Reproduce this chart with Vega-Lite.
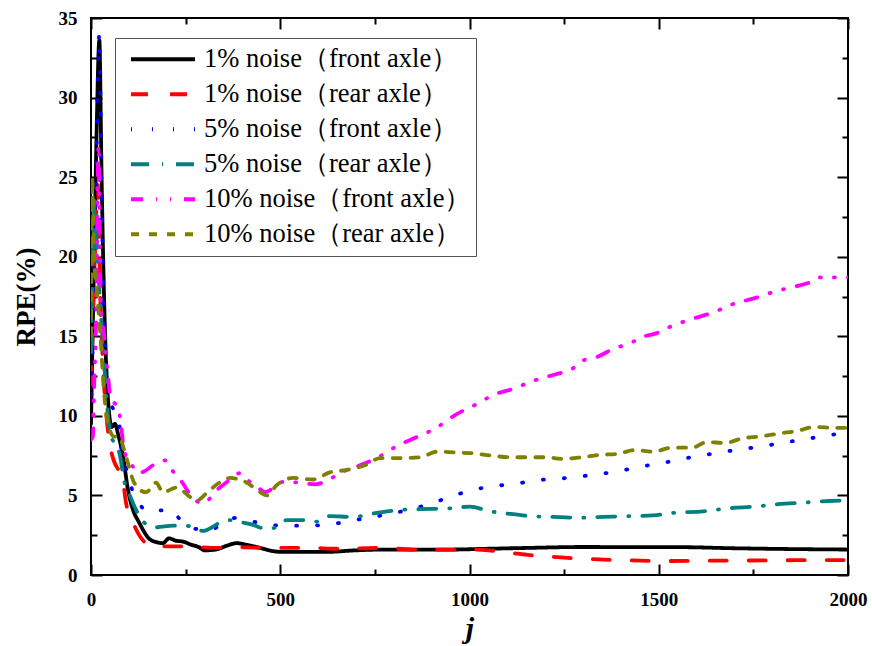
{
  "$schema": "https://vega.github.io/schema/vega-lite/v6.json",
  "width": 757,
  "height": 557,
  "autosize": {"type": "none"},
  "padding": {"left": 91, "top": 18, "right": 24, "bottom": 71},
  "background": "white",
  "config": {
    "view": {"stroke": "black", "strokeWidth": 2},
    "axis": {
      "grid": false,
      "domain": false,
      "tickColor": "black",
      "tickWidth": 2,
      "labelFont": "Liberation Serif",
      "labelFontWeight": "bold",
      "labelFontSize": 19,
      "labelColor": "black",
      "titleFont": "Liberation Serif",
      "titleFontWeight": "bold",
      "titleColor": "black"
    }
  },
  "data": {
    "values": [
      {"series": "1% noise（front axle）", "j": 0, "v": 9.5},
      {"series": "1% noise（front axle）", "j": 5, "v": 16},
      {"series": "1% noise（front axle）", "j": 10, "v": 22},
      {"series": "1% noise（front axle）", "j": 15, "v": 28},
      {"series": "1% noise（front axle）", "j": 22, "v": 33.6},
      {"series": "1% noise（front axle）", "j": 28, "v": 25},
      {"series": "1% noise（front axle）", "j": 35, "v": 17},
      {"series": "1% noise（front axle）", "j": 45, "v": 11},
      {"series": "1% noise（front axle）", "j": 55, "v": 9.3},
      {"series": "1% noise（front axle）", "j": 63, "v": 9.5},
      {"series": "1% noise（front axle）", "j": 72, "v": 8.8},
      {"series": "1% noise（front axle）", "j": 85, "v": 7.4},
      {"series": "1% noise（front axle）", "j": 98, "v": 5.3},
      {"series": "1% noise（front axle）", "j": 111, "v": 4.1},
      {"series": "1% noise（front axle）", "j": 127, "v": 3.3},
      {"series": "1% noise（front axle）", "j": 153, "v": 2.3},
      {"series": "1% noise（front axle）", "j": 175, "v": 2.05},
      {"series": "1% noise（front axle）", "j": 190, "v": 2.0},
      {"series": "1% noise（front axle）", "j": 206, "v": 2.3},
      {"series": "1% noise（front axle）", "j": 225, "v": 2.15},
      {"series": "1% noise（front axle）", "j": 243, "v": 2.1},
      {"series": "1% noise（front axle）", "j": 265, "v": 1.9},
      {"series": "1% noise（front axle）", "j": 285, "v": 1.75},
      {"series": "1% noise（front axle）", "j": 300, "v": 1.55},
      {"series": "1% noise（front axle）", "j": 330, "v": 1.6},
      {"series": "1% noise（front axle）", "j": 360, "v": 1.85},
      {"series": "1% noise（front axle）", "j": 385, "v": 2.0},
      {"series": "1% noise（front axle）", "j": 410, "v": 1.9},
      {"series": "1% noise（front axle）", "j": 447, "v": 1.7},
      {"series": "1% noise（front axle）", "j": 480, "v": 1.5},
      {"series": "1% noise（front axle）", "j": 508, "v": 1.45},
      {"series": "1% noise（front axle）", "j": 560, "v": 1.45},
      {"series": "1% noise（front axle）", "j": 620, "v": 1.45},
      {"series": "1% noise（front axle）", "j": 700, "v": 1.55},
      {"series": "1% noise（front axle）", "j": 780, "v": 1.6},
      {"series": "1% noise（front axle）", "j": 850, "v": 1.6},
      {"series": "1% noise（front axle）", "j": 950, "v": 1.6},
      {"series": "1% noise（front axle）", "j": 1050, "v": 1.65},
      {"series": "1% noise（front axle）", "j": 1150, "v": 1.7},
      {"series": "1% noise（front axle）", "j": 1300, "v": 1.76},
      {"series": "1% noise（front axle）", "j": 1450, "v": 1.75},
      {"series": "1% noise（front axle）", "j": 1550, "v": 1.75},
      {"series": "1% noise（front axle）", "j": 1700, "v": 1.68},
      {"series": "1% noise（front axle）", "j": 1850, "v": 1.63},
      {"series": "1% noise（front axle）", "j": 2000, "v": 1.6},

      {"series": "1% noise（rear axle）", "j": 0, "v": 12},
      {"series": "1% noise（rear axle）", "j": 5, "v": 16},
      {"series": "1% noise（rear axle）", "j": 10, "v": 20},
      {"series": "1% noise（rear axle）", "j": 18, "v": 24.5},
      {"series": "1% noise（rear axle）", "j": 25, "v": 17},
      {"series": "1% noise（rear axle）", "j": 32, "v": 13},
      {"series": "1% noise（rear axle）", "j": 40, "v": 10.2},
      {"series": "1% noise（rear axle）", "j": 50, "v": 8.2},
      {"series": "1% noise（rear axle）", "j": 60, "v": 7.2},
      {"series": "1% noise（rear axle）", "j": 75, "v": 6.5},
      {"series": "1% noise（rear axle）", "j": 84, "v": 6.0},
      {"series": "1% noise（rear axle）", "j": 92, "v": 4.6},
      {"series": "1% noise（rear axle）", "j": 111, "v": 3.3},
      {"series": "1% noise（rear axle）", "j": 125, "v": 2.6},
      {"series": "1% noise（rear axle）", "j": 140, "v": 2.1},
      {"series": "1% noise（rear axle）", "j": 172, "v": 1.75},
      {"series": "1% noise（rear axle）", "j": 200, "v": 1.8},
      {"series": "1% noise（rear axle）", "j": 251, "v": 1.8},
      {"series": "1% noise（rear axle）", "j": 285, "v": 1.75},
      {"series": "1% noise（rear axle）", "j": 330, "v": 1.7},
      {"series": "1% noise（rear axle）", "j": 375, "v": 1.75},
      {"series": "1% noise（rear axle）", "j": 430, "v": 1.72},
      {"series": "1% noise（rear axle）", "j": 473, "v": 1.7},
      {"series": "1% noise（rear axle）", "j": 530, "v": 1.7},
      {"series": "1% noise（rear axle）", "j": 578, "v": 1.7},
      {"series": "1% noise（rear axle）", "j": 650, "v": 1.65},
      {"series": "1% noise（rear axle）", "j": 772, "v": 1.7},
      {"series": "1% noise（rear axle）", "j": 850, "v": 1.6},
      {"series": "1% noise（rear axle）", "j": 993, "v": 1.6},
      {"series": "1% noise（rear axle）", "j": 1050, "v": 1.55},
      {"series": "1% noise（rear axle）", "j": 1107, "v": 1.4},
      {"series": "1% noise（rear axle）", "j": 1160, "v": 1.25},
      {"series": "1% noise（rear axle）", "j": 1213, "v": 1.15},
      {"series": "1% noise（rear axle）", "j": 1318, "v": 1.0},
      {"series": "1% noise（rear axle）", "j": 1420, "v": 0.92},
      {"series": "1% noise（rear axle）", "j": 1522, "v": 0.88},
      {"series": "1% noise（rear axle）", "j": 1650, "v": 0.9},
      {"series": "1% noise（rear axle）", "j": 1800, "v": 0.92},
      {"series": "1% noise（rear axle）", "j": 1944, "v": 0.94},
      {"series": "1% noise（rear axle）", "j": 2000, "v": 0.94},

      {"series": "5% noise（front axle）", "j": 0, "v": 10},
      {"series": "5% noise（front axle）", "j": 5, "v": 15},
      {"series": "5% noise（front axle）", "j": 10, "v": 20},
      {"series": "5% noise（front axle）", "j": 15, "v": 27},
      {"series": "5% noise（front axle）", "j": 22, "v": 34},
      {"series": "5% noise（front axle）", "j": 28, "v": 24},
      {"series": "5% noise（front axle）", "j": 35, "v": 16},
      {"series": "5% noise（front axle）", "j": 45, "v": 12},
      {"series": "5% noise（front axle）", "j": 53, "v": 10.8},
      {"series": "5% noise（front axle）", "j": 65, "v": 10.2},
      {"series": "5% noise（front axle）", "j": 74, "v": 9.7},
      {"series": "5% noise（front axle）", "j": 79, "v": 8.3},
      {"series": "5% noise（front axle）", "j": 92, "v": 6.8},
      {"series": "5% noise（front axle）", "j": 111, "v": 5.2},
      {"series": "5% noise（front axle）", "j": 130, "v": 4.4},
      {"series": "5% noise（front axle）", "j": 150, "v": 4.0},
      {"series": "5% noise（front axle）", "j": 180, "v": 4.05},
      {"series": "5% noise（front axle）", "j": 211, "v": 4.1},
      {"series": "5% noise（front axle）", "j": 235, "v": 3.5},
      {"series": "5% noise（front axle）", "j": 262, "v": 3.0},
      {"series": "5% noise（front axle）", "j": 290, "v": 2.85},
      {"series": "5% noise（front axle）", "j": 314, "v": 2.8},
      {"series": "5% noise（front axle）", "j": 350, "v": 3.3},
      {"series": "5% noise（front axle）", "j": 385, "v": 3.6},
      {"series": "5% noise（front axle）", "j": 420, "v": 3.4},
      {"series": "5% noise（front axle）", "j": 460, "v": 3.2},
      {"series": "5% noise（front axle）", "j": 508, "v": 3.1},
      {"series": "5% noise（front axle）", "j": 573, "v": 3.1},
      {"series": "5% noise（front axle）", "j": 636, "v": 3.2},
      {"series": "5% noise（front axle）", "j": 697, "v": 3.45},
      {"series": "5% noise（front axle）", "j": 758, "v": 3.7},
      {"series": "5% noise（front axle）", "j": 821, "v": 4.0},
      {"series": "5% noise（front axle）", "j": 887, "v": 4.4},
      {"series": "5% noise（front axle）", "j": 948, "v": 4.9},
      {"series": "5% noise（front axle）", "j": 1009, "v": 5.35},
      {"series": "5% noise（front axle）", "j": 1072, "v": 5.6},
      {"series": "5% noise（front axle）", "j": 1138, "v": 5.8},
      {"series": "5% noise（front axle）", "j": 1199, "v": 6.0},
      {"series": "5% noise（front axle）", "j": 1260, "v": 6.1},
      {"series": "5% noise（front axle）", "j": 1327, "v": 6.3},
      {"series": "5% noise（front axle）", "j": 1389, "v": 6.5},
      {"series": "5% noise（front axle）", "j": 1450, "v": 6.8},
      {"series": "5% noise（front axle）", "j": 1512, "v": 7.05},
      {"series": "5% noise（front axle）", "j": 1575, "v": 7.35},
      {"series": "5% noise（front axle）", "j": 1636, "v": 7.6},
      {"series": "5% noise（front axle）", "j": 1702, "v": 7.85},
      {"series": "5% noise（front axle）", "j": 1762, "v": 8.05},
      {"series": "5% noise（front axle）", "j": 1826, "v": 8.3},
      {"series": "5% noise（front axle）", "j": 1892, "v": 8.55},
      {"series": "5% noise（front axle）", "j": 1952, "v": 8.8},
      {"series": "5% noise（front axle）", "j": 2000, "v": 8.9},

      {"series": " 5% noise（rear axle）", "j": 0, "v": 14},
      {"series": " 5% noise（rear axle）", "j": 5, "v": 20},
      {"series": " 5% noise（rear axle）", "j": 10, "v": 23.5},
      {"series": " 5% noise（rear axle）", "j": 15, "v": 21},
      {"series": " 5% noise（rear axle）", "j": 22, "v": 18},
      {"series": " 5% noise（rear axle）", "j": 32, "v": 14.3},
      {"series": " 5% noise（rear axle）", "j": 45, "v": 10},
      {"series": " 5% noise（rear axle）", "j": 53, "v": 8.7},
      {"series": " 5% noise（rear axle）", "j": 71, "v": 8.0},
      {"series": " 5% noise（rear axle）", "j": 79, "v": 7.2},
      {"series": " 5% noise（rear axle）", "j": 85, "v": 6.2},
      {"series": " 5% noise（rear axle）", "j": 98, "v": 5.3},
      {"series": " 5% noise（rear axle）", "j": 119, "v": 4.1},
      {"series": " 5% noise（rear axle）", "j": 140, "v": 3.3},
      {"series": " 5% noise（rear axle）", "j": 172, "v": 3.0},
      {"series": " 5% noise（rear axle）", "j": 217, "v": 3.1},
      {"series": " 5% noise（rear axle）", "j": 251, "v": 3.1},
      {"series": " 5% noise（rear axle）", "j": 275, "v": 2.95},
      {"series": " 5% noise（rear axle）", "j": 296, "v": 2.77},
      {"series": " 5% noise（rear axle）", "j": 320, "v": 3.0},
      {"series": " 5% noise（rear axle）", "j": 341, "v": 3.3},
      {"series": " 5% noise（rear axle）", "j": 367, "v": 3.45},
      {"series": " 5% noise（rear axle）", "j": 400, "v": 3.3},
      {"series": " 5% noise（rear axle）", "j": 428, "v": 3.15},
      {"series": " 5% noise（rear axle）", "j": 454, "v": 2.95},
      {"series": " 5% noise（rear axle）", "j": 481, "v": 2.95},
      {"series": " 5% noise（rear axle）", "j": 518, "v": 3.45},
      {"series": " 5% noise（rear axle）", "j": 560, "v": 3.45},
      {"series": " 5% noise（rear axle）", "j": 597, "v": 3.35},
      {"series": " 5% noise（rear axle）", "j": 631, "v": 3.7},
      {"series": " 5% noise（rear axle）", "j": 692, "v": 3.65},
      {"series": " 5% noise（rear axle）", "j": 755, "v": 3.9},
      {"series": " 5% noise（rear axle）", "j": 824, "v": 4.1},
      {"series": " 5% noise（rear axle）", "j": 896, "v": 4.15},
      {"series": " 5% noise（rear axle）", "j": 956, "v": 4.2},
      {"series": " 5% noise（rear axle）", "j": 1001, "v": 4.3},
      {"series": " 5% noise（rear axle）", "j": 1054, "v": 4.0},
      {"series": " 5% noise（rear axle）", "j": 1088, "v": 3.9},
      {"series": " 5% noise（rear axle）", "j": 1160, "v": 3.7},
      {"series": " 5% noise（rear axle）", "j": 1220, "v": 3.65},
      {"series": " 5% noise（rear axle）", "j": 1292, "v": 3.6},
      {"series": " 5% noise（rear axle）", "j": 1353, "v": 3.65},
      {"series": " 5% noise（rear axle）", "j": 1424, "v": 3.7},
      {"series": " 5% noise（rear axle）", "j": 1485, "v": 3.75},
      {"series": " 5% noise（rear axle）", "j": 1538, "v": 3.9},
      {"series": " 5% noise（rear axle）", "j": 1617, "v": 4.0},
      {"series": " 5% noise（rear axle）", "j": 1688, "v": 4.2},
      {"series": " 5% noise（rear axle）", "j": 1754, "v": 4.3},
      {"series": " 5% noise（rear axle）", "j": 1815, "v": 4.45},
      {"series": " 5% noise（rear axle）", "j": 1881, "v": 4.55},
      {"series": " 5% noise（rear axle）", "j": 1952, "v": 4.65},
      {"series": " 5% noise（rear axle）", "j": 2000, "v": 4.7},

      {"series": "10% noise（front axle）", "j": 0, "v": 8.5},
      {"series": "10% noise（front axle）", "j": 5, "v": 8.7},
      {"series": "10% noise（front axle）", "j": 8, "v": 11.6},
      {"series": "10% noise（front axle）", "j": 13, "v": 15.4},
      {"series": "10% noise（front axle）", "j": 20, "v": 27},
      {"series": "10% noise（front axle）", "j": 26, "v": 17},
      {"series": "10% noise（front axle）", "j": 35, "v": 15},
      {"series": "10% noise（front axle）", "j": 45, "v": 12.5},
      {"series": "10% noise（front axle）", "j": 53, "v": 11},
      {"series": "10% noise（front axle）", "j": 62, "v": 10.8},
      {"series": "10% noise（front axle）", "j": 71, "v": 10.6},
      {"series": "10% noise（front axle）", "j": 79, "v": 9.5},
      {"series": "10% noise（front axle）", "j": 87, "v": 7.9},
      {"series": "10% noise（front axle）", "j": 100, "v": 7.2},
      {"series": "10% noise（front axle）", "j": 111, "v": 6.8},
      {"series": "10% noise（front axle）", "j": 124, "v": 6.4},
      {"series": "10% noise（front axle）", "j": 140, "v": 6.5},
      {"series": "10% noise（front axle）", "j": 164, "v": 6.9},
      {"series": "10% noise（front axle）", "j": 196, "v": 7.2},
      {"series": "10% noise（front axle）", "j": 217, "v": 6.5},
      {"series": "10% noise（front axle）", "j": 240, "v": 5.85},
      {"series": "10% noise（front axle）", "j": 267, "v": 4.9},
      {"series": "10% noise（front axle）", "j": 296, "v": 4.5},
      {"series": "10% noise（front axle）", "j": 333, "v": 5.35},
      {"series": "10% noise（front axle）", "j": 359, "v": 5.85},
      {"series": "10% noise（front axle）", "j": 394, "v": 6.4},
      {"series": "10% noise（front axle）", "j": 420, "v": 5.85},
      {"series": "10% noise（front axle）", "j": 439, "v": 5.55},
      {"series": "10% noise（front axle）", "j": 460, "v": 5.2},
      {"series": "10% noise（front axle）", "j": 491, "v": 5.65},
      {"series": "10% noise（front axle）", "j": 507, "v": 5.85},
      {"series": "10% noise（front axle）", "j": 552, "v": 5.8},
      {"series": "10% noise（front axle）", "j": 592, "v": 5.7},
      {"series": "10% noise（front axle）", "j": 640, "v": 6.15},
      {"series": "10% noise（front axle）", "j": 666, "v": 6.5},
      {"series": "10% noise（front axle）", "j": 711, "v": 6.9},
      {"series": "10% noise（front axle）", "j": 755, "v": 7.35},
      {"series": "10% noise（front axle）", "j": 808, "v": 8.1},
      {"series": "10% noise（front axle）", "j": 864, "v": 8.7},
      {"series": "10% noise（front axle）", "j": 909, "v": 9.2},
      {"series": "10% noise（front axle）", "j": 962, "v": 10.05},
      {"series": "10% noise（front axle）", "j": 1020, "v": 10.75},
      {"series": "10% noise（front axle）", "j": 1062, "v": 11.3},
      {"series": "10% noise（front axle）", "j": 1115, "v": 11.7},
      {"series": "10% noise（front axle）", "j": 1181, "v": 12.3},
      {"series": "10% noise（front axle）", "j": 1226, "v": 12.6},
      {"series": "10% noise（front axle）", "j": 1274, "v": 13.0},
      {"series": "10% noise（front axle）", "j": 1292, "v": 13.4},
      {"series": "10% noise（front axle）", "j": 1337, "v": 13.7},
      {"series": "10% noise（front axle）", "j": 1379, "v": 14.2},
      {"series": "10% noise（front axle）", "j": 1432, "v": 14.65},
      {"series": "10% noise（front axle）", "j": 1450, "v": 14.9},
      {"series": "10% noise（front axle）", "j": 1495, "v": 15.2},
      {"series": "10% noise（front axle）", "j": 1535, "v": 15.65},
      {"series": "10% noise（front axle）", "j": 1590, "v": 16.1},
      {"series": "10% noise（front axle）", "j": 1649, "v": 16.55},
      {"series": "10% noise（front axle）", "j": 1693, "v": 17.0},
      {"series": "10% noise（front axle）", "j": 1754, "v": 17.4},
      {"series": "10% noise（front axle）", "j": 1812, "v": 17.85},
      {"series": "10% noise（front axle）", "j": 1855, "v": 18.1},
      {"series": "10% noise（front axle）", "j": 1900, "v": 18.4},
      {"series": "10% noise（front axle）", "j": 1926, "v": 18.7},
      {"series": "10% noise（front axle）", "j": 1971, "v": 18.7},
      {"series": "10% noise（front axle）", "j": 2000, "v": 18.7},

      {"series": "10% noise（rear axle）", "j": 0, "v": 15},
      {"series": "10% noise（rear axle）", "j": 3, "v": 25},
      {"series": "10% noise（rear axle）", "j": 8, "v": 20},
      {"series": "10% noise（rear axle）", "j": 15, "v": 18},
      {"series": "10% noise（rear axle）", "j": 25, "v": 15},
      {"series": "10% noise（rear axle）", "j": 34, "v": 11.6},
      {"series": "10% noise（rear axle）", "j": 45, "v": 9.5},
      {"series": "10% noise（rear axle）", "j": 61, "v": 8.7},
      {"series": "10% noise（rear axle）", "j": 74, "v": 8.7},
      {"series": "10% noise（rear axle）", "j": 87, "v": 7.9},
      {"series": "10% noise（rear axle）", "j": 98, "v": 7.0},
      {"series": "10% noise（rear axle）", "j": 114, "v": 5.8},
      {"series": "10% noise（rear axle）", "j": 145, "v": 5.2},
      {"series": "10% noise（rear axle）", "j": 172, "v": 5.8},
      {"series": "10% noise（rear axle）", "j": 190, "v": 5.2},
      {"series": "10% noise（rear axle）", "j": 227, "v": 5.5},
      {"series": "10% noise（rear axle）", "j": 262, "v": 4.9},
      {"series": "10% noise（rear axle）", "j": 280, "v": 4.7},
      {"series": "10% noise（rear axle）", "j": 314, "v": 5.35},
      {"series": "10% noise（rear axle）", "j": 354, "v": 6.0},
      {"series": "10% noise（rear axle）", "j": 367, "v": 6.1},
      {"series": "10% noise（rear axle）", "j": 412, "v": 5.8},
      {"series": "10% noise（rear axle）", "j": 447, "v": 5.2},
      {"series": "10% noise（rear axle）", "j": 465, "v": 5.0},
      {"series": "10% noise（rear axle）", "j": 491, "v": 5.65},
      {"series": "10% noise（rear axle）", "j": 534, "v": 6.1},
      {"series": "10% noise（rear axle）", "j": 587, "v": 6.0},
      {"series": "10% noise（rear axle）", "j": 631, "v": 6.45},
      {"series": "10% noise（rear axle）", "j": 676, "v": 6.6},
      {"series": "10% noise（rear axle）", "j": 724, "v": 6.9},
      {"series": "10% noise（rear axle）", "j": 764, "v": 7.35},
      {"series": "10% noise（rear axle）", "j": 816, "v": 7.35},
      {"series": "10% noise（rear axle）", "j": 869, "v": 7.4},
      {"series": "10% noise（rear axle）", "j": 914, "v": 7.75},
      {"series": "10% noise（rear axle）", "j": 962, "v": 7.7},
      {"series": "10% noise（rear axle）", "j": 1007, "v": 7.65},
      {"series": "10% noise（rear axle）", "j": 1059, "v": 7.5},
      {"series": "10% noise（rear axle）", "j": 1107, "v": 7.4},
      {"series": "10% noise（rear axle）", "j": 1199, "v": 7.4},
      {"series": "10% noise（rear axle）", "j": 1247, "v": 7.3},
      {"series": "10% noise（rear axle）", "j": 1297, "v": 7.4},
      {"series": "10% noise（rear axle）", "j": 1345, "v": 7.55},
      {"series": "10% noise（rear axle）", "j": 1389, "v": 7.6},
      {"series": "10% noise（rear axle）", "j": 1437, "v": 7.85},
      {"series": "10% noise（rear axle）", "j": 1485, "v": 7.75},
      {"series": "10% noise（rear axle）", "j": 1535, "v": 8.0},
      {"series": "10% noise（rear axle）", "j": 1588, "v": 8.0},
      {"series": "10% noise（rear axle）", "j": 1627, "v": 8.35},
      {"series": "10% noise（rear axle）", "j": 1675, "v": 8.3},
      {"series": "10% noise（rear axle）", "j": 1723, "v": 8.6},
      {"series": "10% noise（rear axle）", "j": 1767, "v": 8.7},
      {"series": "10% noise（rear axle）", "j": 1820, "v": 8.9},
      {"series": "10% noise（rear axle）", "j": 1865, "v": 9.05},
      {"series": "10% noise（rear axle）", "j": 1913, "v": 9.3},
      {"series": "10% noise（rear axle）", "j": 1966, "v": 9.25},
      {"series": "10% noise（rear axle）", "j": 2000, "v": 9.25}
    ]
  },
  "layer": [
    {
      "mark": {"type": "line", "strokeWidth": 3.8, "strokeCap": "round", "strokeJoin": "round", "interpolate": "monotone", "clip": true},
      "encoding": {
        "x": {
          "field": "j", "type": "quantitative",
          "scale": {"domain": [0, 2000], "nice": false},
          "axis": {
            "orient": "bottom",
            "title": "j",
            "titleFontSize": 30,
            "titleFontStyle": "italic",
            "titlePadding": 4,
            "format": "d",
            "values": [0, 500, 1000, 1500, 2000],
            "tickSize": -11,
            "labelPadding": 26,
            "labelFlush": false
          }
        },
        "y": {
          "field": "v", "type": "quantitative",
          "scale": {"domain": [0, 35], "nice": false},
          "axis": {
            "orient": "left",
            "title": "RPE(%)",
            "titleFontSize": 27,
            "titlePadding": 18,
            "values": [0, 5, 10, 15, 20, 25, 30, 35],
            "tickSize": -11,
            "labelPadding": 25,
            "labelFlush": false
          }
        },
        "color": {
          "field": "series", "type": "nominal", "title": null,
          "scale": {
            "domain": ["1% noise（front axle）", "1% noise（rear axle）", "5% noise（front axle）", " 5% noise（rear axle）", "10% noise（front axle）", "10% noise（rear axle）"],
            "range": ["#000000", "#ff0000", "#0000ff", "#008080", "#ff00ff", "#808000"]
          },
          "legend": {
            "orient": "none",
            "legendX": 24,
            "legendY": 20,
            "direction": "vertical",
            "symbolType": "stroke",
            "symbolSize": 4096,
            "symbolStrokeWidth": 4,
            "symbolOffset": 10,
            "clipHeight": 34.3,
            "labelFont": "Liberation Serif",
            "labelFontSize": 26.5,
            "labelColor": "black",
            "labelLimit": 400,
            "labelOffset": 7,
            "rowPadding": 0,
            "padding": 4,
            "strokeColor": "#555555",
            "fillColor": "white"
          }
        },
        "strokeDash": {
          "field": "series", "type": "nominal", "title": null,
          "scale": {
            "domain": ["1% noise（front axle）", "1% noise（rear axle）", "5% noise（front axle）", " 5% noise（rear axle）", "10% noise（front axle）", "10% noise（rear axle）"],
            "range": [[1, 0], [17, 22], [1, 20], [18, 13, 1, 13], [12, 13, 1, 13, 1, 13], [8, 10]]
          }
        }
      }
    },
    {
      "mark": {"type": "point", "opacity": 0},
      "encoding": {
        "x": {
          "field": "j", "type": "quantitative",
          "axis": {"orient": "top", "title": null, "labels": false, "values": [0, 500, 1000, 1500, 2000], "tickSize": -11}
        },
        "y": {
          "field": "v", "type": "quantitative",
          "axis": {"orient": "right", "title": null, "labels": false, "values": [0, 5, 10, 15, 20, 25, 30, 35], "tickSize": -11}
        }
      }
    },
    {
      "mark": {"type": "point", "opacity": 0},
      "encoding": {
        "x": {
          "field": "j", "type": "quantitative",
          "axis": {"orient": "bottom", "title": null, "labels": false, "values": [250, 750, 1250, 1750], "tickSize": -6}
        },
        "y": {
          "field": "v", "type": "quantitative",
          "axis": {"orient": "left", "title": null, "labels": false, "values": [2.5, 7.5, 12.5, 17.5, 22.5, 27.5, 32.5], "tickSize": -6}
        }
      }
    },
    {
      "mark": {"type": "point", "opacity": 0},
      "encoding": {
        "x": {
          "field": "j", "type": "quantitative",
          "axis": {"orient": "top", "title": null, "labels": false, "values": [250, 750, 1250, 1750], "tickSize": -6}
        },
        "y": {
          "field": "v", "type": "quantitative",
          "axis": {"orient": "right", "title": null, "labels": false, "values": [2.5, 7.5, 12.5, 17.5, 22.5, 27.5, 32.5], "tickSize": -6}
        }
      }
    }
  ]
}
